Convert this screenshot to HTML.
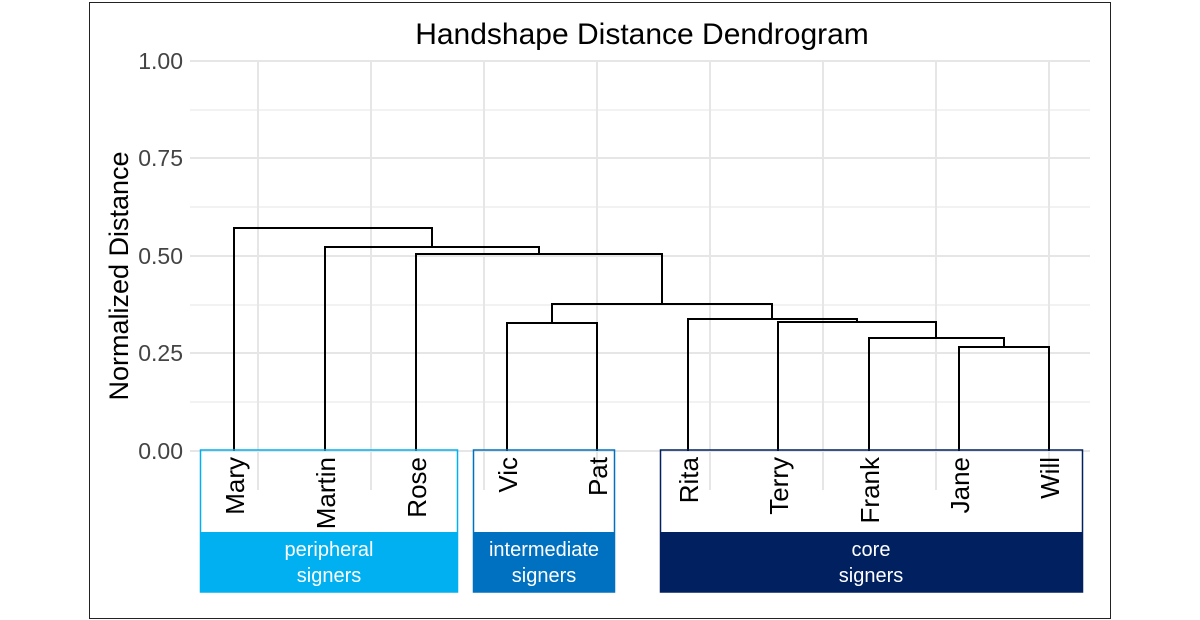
<!DOCTYPE html>
<html><head><style>body{margin:0;background:#fff}svg{display:block}</style></head>
<body>
<svg width="1200" height="620" xmlns="http://www.w3.org/2000/svg" font-family="Liberation Sans, sans-serif">
<rect x="89.5" y="2.5" width="1021" height="616" fill="#fff" stroke="#222" stroke-width="1"/>
<text x="642" y="44" font-size="30" text-anchor="middle" fill="#000">Handshape Distance Dendrogram</text>
<g stroke="#ebebeb" stroke-width="1.2">
<line x1="190" x2="1090" y1="110" y2="110"/><line x1="190" x2="1090" y1="207" y2="207"/><line x1="190" x2="1090" y1="305" y2="305"/><line x1="190" x2="1090" y1="402" y2="402"/>
</g>
<g stroke="#e6e6e6" stroke-width="2">
<line x1="190" x2="1090" y1="61" y2="61"/><line x1="190" x2="1090" y1="158" y2="158"/><line x1="190" x2="1090" y1="256" y2="256"/><line x1="190" x2="1090" y1="353" y2="353"/><line x1="190" x2="1090" y1="451" y2="451"/>
<line x1="258" x2="258" y1="61" y2="490"/><line x1="371" x2="371" y1="61" y2="490"/><line x1="484" x2="484" y1="61" y2="490"/><line x1="597" x2="597" y1="61" y2="490"/><line x1="710" x2="710" y1="61" y2="490"/><line x1="823" x2="823" y1="61" y2="490"/><line x1="936" x2="936" y1="61" y2="490"/><line x1="1049" x2="1049" y1="61" y2="490"/>
</g>
<g font-size="23" fill="#444" text-anchor="end">
<text x="183" y="69">1.00</text><text x="183" y="166">0.75</text><text x="183" y="264">0.50</text><text x="183" y="361">0.25</text><text x="183" y="459">0.00</text>
</g>
<text transform="translate(128,276) rotate(-90)" font-size="27" text-anchor="middle" fill="#000">Normalized Distance</text>
<g fill="none" stroke="#000" stroke-width="2">
<path d="M959 451V347H1049V451"/>
<path d="M869 451V338H1004V347"/>
<path d="M778 451V322H936V338"/>
<path d="M688 451V319H857V322"/>
<path d="M507 451V323H597V451"/>
<path d="M552 323V304H772V319"/>
<path d="M416 451V254H662V304"/>
<path d="M325 451V247H539V254"/>
<path d="M234 451V228H432V247"/>
</g>
<g fill="none" stroke-width="1.5">
<rect x="200.5" y="450" width="257" height="142" stroke="#00b0f0" fill="none"/>
<rect x="473.5" y="450" width="141" height="142" stroke="#0070c0"/>
<rect x="660.5" y="450" width="422" height="142" stroke="#002060"/>
</g>
<rect x="200" y="532" width="258" height="60" fill="#00b0f0"/>
<rect x="473" y="532" width="142" height="60" fill="#0070c0"/>
<rect x="660" y="532" width="423" height="60" fill="#002060"/>
<g font-size="20" fill="#fff" text-anchor="middle">
<text x="329" y="556">peripheral</text><text x="329" y="582">signers</text>
<text x="544" y="556">intermediate</text><text x="544" y="582">signers</text>
<text x="871" y="556">core</text><text x="871" y="582">signers</text>
</g>
<g font-size="26" fill="#000" text-anchor="end">
<text transform="translate(244,457) rotate(-90)">Mary</text>
<text transform="translate(335,457) rotate(-90)">Martin</text>
<text transform="translate(426,457) rotate(-90)">Rose</text>
<text transform="translate(517,457) rotate(-90)">Vic</text>
<text transform="translate(607,457) rotate(-90)">Pat</text>
<text transform="translate(698,457) rotate(-90)">Rita</text>
<text transform="translate(788,457) rotate(-90)">Terry</text>
<text transform="translate(879,457) rotate(-90)">Frank</text>
<text transform="translate(969,457) rotate(-90)">Jane</text>
<text transform="translate(1059,457) rotate(-90)">Will</text>
</g>
</svg>
</body></html>
